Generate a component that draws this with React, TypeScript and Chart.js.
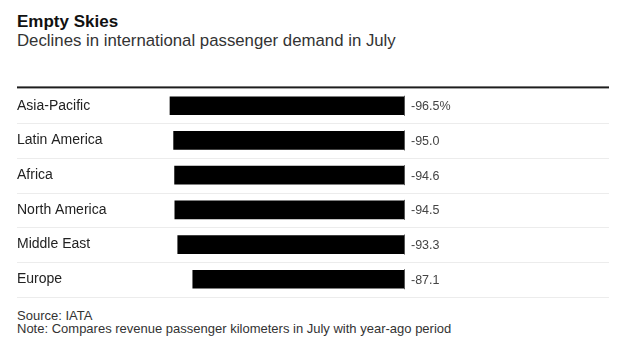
import React, { useEffect, useRef } from "react";
import { Chart, registerables } from "chart.js";

Chart.register(...registerables);

const regions = ["Asia-Pacific", "Latin America", "Africa", "North America", "Middle East", "Europe"];
const julyChange = [-96.5, -95.0, -94.6, -94.5, -93.3, -87.1];

const FONT = "'Liberation Sans', Arial, Helvetica, sans-serif";

// Row rules, heavy top rule, value labels and the zero ticks at the bar ends
const rowDecor = {
  id: "rowDecor",
  beforeDatasetsDraw(chart: any) {
    const { ctx, chartArea } = chart;
    const n = regions.length;
    const pitch = (chartArea.bottom - chartArea.top) / n;
    ctx.save();
    ctx.fillStyle = "#1e1e1e";
    ctx.fillRect(17, chartArea.top - 2, 592, 2);
    ctx.strokeStyle = "#ececec";
    ctx.lineWidth = 1;
    for (let i = 1; i <= n; i++) {
      const y = Math.round(chartArea.top + i * pitch) + 0.5;
      ctx.beginPath();
      ctx.moveTo(17, y);
      ctx.lineTo(609, y);
      ctx.stroke();
    }
    ctx.restore();
  },
  afterDatasetsDraw(chart: any) {
    const { ctx } = chart;
    const meta = chart.getDatasetMeta(0);
    const zero = chart.scales.x.getPixelForValue(0);
    ctx.save();
    meta.data.forEach((bar: any, i: number) => {
      const h = bar.height;
      ctx.strokeStyle = "#555";
      ctx.lineWidth = 1;
      ctx.beginPath();
      ctx.moveTo(Math.round(zero) + 0.5, bar.y - h / 2 - 1);
      ctx.lineTo(Math.round(zero) + 0.5, bar.y + h / 2 + 1);
      ctx.stroke();
      const v = julyChange[i];
      const txt = i === 0 ? `${v.toFixed(1)}%` : v.toFixed(1);
      ctx.fillStyle = "#444";
      ctx.font = `12.5px ${FONT}`;
      ctx.textAlign = "left";
      ctx.textBaseline = "middle";
      ctx.fillText(txt, zero + 7, bar.y + 1);
    });
    ctx.restore();
  },
};

export default function App() {
  const canvasRef = useRef<HTMLCanvasElement | null>(null);

  useEffect(() => {
    if (!canvasRef.current) return;
    const chart = new Chart(canvasRef.current, {
      type: "bar",
      data: {
        labels: regions,
        datasets: [
          {
            data: julyChange,
            backgroundColor: "#000000",
            borderWidth: 0,
            barThickness: 18,
          },
        ],
      },
      options: {
        indexAxis: "y",
        animation: false,
        responsive: false,
        maintainAspectRatio: false,
        devicePixelRatio: 1,
        layout: { padding: { top: 8, bottom: 4, left: 17, right: 216 } },
        plugins: {
          legend: { display: false },
          tooltip: { enabled: false },
          title: { display: false },
        },
        scales: {
          x: {
            display: false,
            min: -100,
            max: 0,
          },
          y: {
            position: "left",
            grid: { display: false },
            border: { display: false },
            ticks: {
              crossAlign: "far",
              padding: 0,
              color: "#222",
              font: { family: FONT, size: 14 },
            },
            afterFit(scale: any) {
              scale.width = 144.5;
            },
          },
        },
      },
      plugins: [rowDecor],
    });
    return () => chart.destroy();
  }, []);

  const base: React.CSSProperties = {
    position: "absolute",
    left: 17,
    margin: 0,
    whiteSpace: "nowrap",
    fontFamily: FONT,
  };

  return (
    <div style={{ position: "absolute", left: 0, top: 0, width: 620, height: 345, background: "#fff", overflow: "hidden" }}>
      <div style={{ ...base, top: 12, fontSize: 17, lineHeight: "20px", fontWeight: 700, color: "#111" }}>Empty Skies</div>
      <div style={{ ...base, top: 31, fontSize: 16.8, lineHeight: "20px", color: "#333" }}>
        Declines in international passenger demand in July
      </div>
      <canvas
        ref={canvasRef}
        width={620}
        height={225}
        style={{ position: "absolute", left: 0, top: 80, width: 620, height: 225 }}
      />
      <div style={{ ...base, top: 308, fontSize: 13, lineHeight: "15px", color: "#333" }}>Source: IATA</div>
      <div style={{ ...base, top: 321, fontSize: 13, lineHeight: "15px", color: "#333" }}>
        Note: Compares revenue passenger kilometers in July with year-ago period
      </div>
    </div>
  );
}
